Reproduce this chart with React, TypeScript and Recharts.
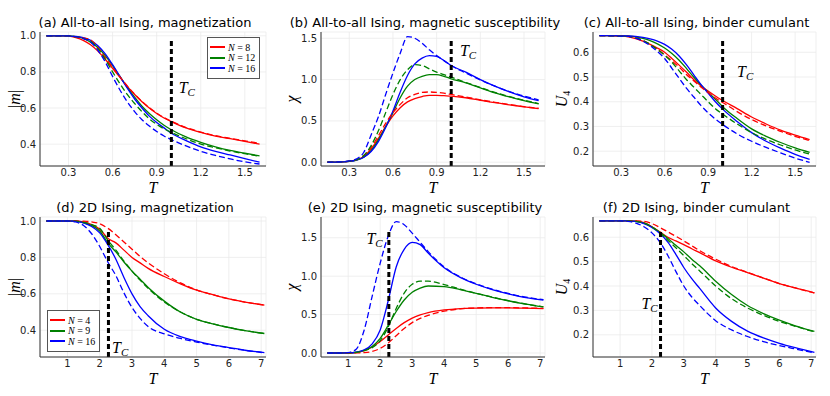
import React from "react";
import {
  LineChart,
  Line,
  XAxis,
  YAxis,
  CartesianGrid,
  ReferenceLine,
  ReferenceDot
} from "recharts";

// temperatures
const tTop = [0.15, 0.2, 0.25, 0.3, 0.35, 0.4, 0.45, 0.5, 0.55, 0.6, 0.65, 0.7, 0.75, 0.8, 0.85, 0.9, 0.95, 1.0, 1.1, 1.2, 1.3, 1.4, 1.5, 1.6];
const tBottom = [0.35, 0.75, 1.0, 1.25, 1.5, 1.75, 2.0, 2.25, 2.5, 2.75, 3.0, 3.25, 3.5, 4.0, 4.5, 5.0, 5.5, 6.0, 6.5, 7.1];

const nAllToAll = [8, 12, 16];
const n2d = [4, 9, 16];
const colors = ["#ff0000", "#008000", "#0000ff"];

// (a) all-to-all |m|
const aRed = [1, 1, 1, 0.998, 0.99, 0.975, 0.95, 0.915, 0.87, 0.82, 0.77, 0.72, 0.675, 0.635, 0.6, 0.57, 0.545, 0.525, 0.49, 0.465, 0.445, 0.43, 0.415, 0.4];
const aRedDash = [1, 1, 1, 0.999, 0.995, 0.988, 0.978, 0.935, 0.88, 0.825, 0.772, 0.722, 0.677, 0.637, 0.602, 0.572, 0.547, 0.527, 0.492, 0.467, 0.447, 0.432, 0.418, 0.405];
const aGreen = [1, 1, 1, 0.999, 0.995, 0.985, 0.965, 0.935, 0.89, 0.835, 0.775, 0.715, 0.66, 0.61, 0.57, 0.535, 0.505, 0.48, 0.44, 0.41, 0.385, 0.365, 0.35, 0.335];
const aGreenDash = [1, 1, 1, 0.999, 0.995, 0.985, 0.97, 0.93, 0.87, 0.8, 0.735, 0.675, 0.625, 0.58, 0.54, 0.51, 0.485, 0.465, 0.43, 0.4, 0.38, 0.362, 0.347, 0.333];
const aBlue = [1, 1, 1, 0.999, 0.997, 0.99, 0.975, 0.945, 0.9, 0.84, 0.775, 0.71, 0.65, 0.6, 0.555, 0.52, 0.49, 0.46, 0.42, 0.385, 0.36, 0.34, 0.32, 0.3];
const aBlueDash = [1, 1, 1, 0.999, 0.995, 0.985, 0.965, 0.92, 0.855, 0.775, 0.7, 0.635, 0.58, 0.535, 0.5, 0.47, 0.445, 0.425, 0.39, 0.36, 0.338, 0.318, 0.302, 0.29];

// (b) all-to-all chi
const bRed = [0, 0.001, 0.004, 0.01, 0.03, 0.07, 0.16, 0.29, 0.43, 0.56, 0.66, 0.73, 0.77, 0.795, 0.81, 0.81, 0.805, 0.8, 0.78, 0.75, 0.72, 0.695, 0.67, 0.65];
const bRedDash = [0, 0.001, 0.005, 0.012, 0.03, 0.08, 0.18, 0.32, 0.47, 0.6, 0.7, 0.78, 0.82, 0.845, 0.85, 0.845, 0.835, 0.82, 0.79, 0.755, 0.725, 0.698, 0.672, 0.652];
const bGreen = [0, 0.001, 0.004, 0.01, 0.025, 0.06, 0.14, 0.27, 0.43, 0.6, 0.78, 0.92, 1.0, 1.04, 1.06, 1.06, 1.04, 1.01, 0.96, 0.9, 0.84, 0.79, 0.745, 0.705];
const bGreenDash = [0, 0.001, 0.005, 0.012, 0.03, 0.08, 0.2, 0.38, 0.6, 0.82, 1.0, 1.12, 1.18, 1.17, 1.13, 1.09, 1.06, 1.03, 0.965, 0.905, 0.845, 0.795, 0.75, 0.71];
const bBlue = [0, 0.001, 0.004, 0.01, 0.025, 0.06, 0.13, 0.25, 0.42, 0.62, 0.85, 1.05, 1.19, 1.26, 1.29, 1.28, 1.23, 1.17, 1.09, 1.0, 0.92, 0.85, 0.79, 0.745];
const bBlueDash = [0, 0.002, 0.005, 0.015, 0.04, 0.12, 0.33, 0.55, 0.82, 1.08, 1.32, 1.52, 1.5, 1.44, 1.36, 1.29, 1.23, 1.17, 1.08, 0.995, 0.92, 0.855, 0.8, 0.755];

// (c) all-to-all binder cumulant
const cRed = [0.667, 0.667, 0.666, 0.665, 0.662, 0.655, 0.645, 0.632, 0.617, 0.6, 0.575, 0.548, 0.52, 0.49, 0.465, 0.443, 0.423, 0.405, 0.372, 0.338, 0.31, 0.285, 0.265, 0.247];
const cRedDash = [0.667, 0.667, 0.666, 0.665, 0.664, 0.658, 0.648, 0.632, 0.612, 0.59, 0.565, 0.54, 0.51, 0.485, 0.46, 0.437, 0.415, 0.397, 0.36, 0.328, 0.302, 0.28, 0.26, 0.243];
const cGreen = [0.667, 0.667, 0.667, 0.666, 0.665, 0.662, 0.656, 0.647, 0.634, 0.617, 0.595, 0.568, 0.535, 0.5, 0.468, 0.438, 0.41, 0.38, 0.332, 0.29, 0.26, 0.235, 0.213, 0.195];
const cGreenDash = [0.667, 0.667, 0.666, 0.665, 0.664, 0.658, 0.648, 0.632, 0.612, 0.588, 0.56, 0.525, 0.49, 0.46, 0.43, 0.4, 0.372, 0.35, 0.31, 0.275, 0.248, 0.225, 0.205, 0.188];
const cBlue = [0.667, 0.667, 0.667, 0.667, 0.666, 0.664, 0.66, 0.654, 0.645, 0.632, 0.612, 0.585, 0.55, 0.51, 0.47, 0.435, 0.4, 0.37, 0.32, 0.275, 0.24, 0.212, 0.187, 0.167];
const cBlueDash = [0.667, 0.667, 0.666, 0.665, 0.664, 0.657, 0.645, 0.627, 0.603, 0.575, 0.535, 0.495, 0.455, 0.42, 0.385, 0.355, 0.33, 0.308, 0.27, 0.24, 0.215, 0.193, 0.172, 0.155];

// (d) 2D |m|
const dRed = [1, 1, 1, 0.999, 0.995, 0.98, 0.955, 0.905, 0.88, 0.84, 0.8, 0.77, 0.74, 0.695, 0.655, 0.62, 0.595, 0.572, 0.555, 0.538];
const dRedDash = [1, 1, 1, 1, 0.999, 0.995, 0.985, 0.96, 0.925, 0.885, 0.845, 0.805, 0.77, 0.71, 0.66, 0.622, 0.595, 0.572, 0.555, 0.538];
const dGreen = [1, 1, 1, 0.999, 0.99, 0.975, 0.945, 0.88, 0.83, 0.775, 0.725, 0.68, 0.635, 0.56, 0.5, 0.46, 0.435, 0.415, 0.398, 0.382];
const dGreenDash = [1, 1, 1, 0.999, 0.993, 0.98, 0.96, 0.895, 0.84, 0.78, 0.725, 0.675, 0.63, 0.555, 0.5, 0.46, 0.435, 0.415, 0.398, 0.382];
const dBlue = [1, 1, 1, 0.999, 0.99, 0.97, 0.935, 0.87, 0.79, 0.69, 0.6, 0.53, 0.48, 0.405, 0.365, 0.34, 0.32, 0.305, 0.29, 0.277];
const dBlueDash = [1, 1, 1, 0.995, 0.975, 0.93, 0.86, 0.775, 0.7, 0.605, 0.525, 0.465, 0.42, 0.38, 0.355, 0.335, 0.318, 0.303, 0.29, 0.276];

// (e) 2D chi
const eRed = [0, 0, 0.0005, 0.005, 0.03, 0.08, 0.15, 0.235, 0.32, 0.395, 0.455, 0.495, 0.525, 0.56, 0.578, 0.585, 0.588, 0.587, 0.583, 0.578];
const eRedDash = [0, 0, 0, 0.001, 0.005, 0.02, 0.06, 0.13, 0.225, 0.32, 0.395, 0.45, 0.49, 0.545, 0.575, 0.586, 0.59, 0.59, 0.587, 0.58];
const eGreen = [0, 0, 0.001, 0.01, 0.035, 0.085, 0.19, 0.36, 0.54, 0.69, 0.79, 0.845, 0.872, 0.865, 0.825, 0.775, 0.725, 0.68, 0.64, 0.6];
const eGreenDash = [0, 0, 0.001, 0.008, 0.03, 0.07, 0.16, 0.34, 0.58, 0.78, 0.895, 0.935, 0.935, 0.89, 0.832, 0.778, 0.727, 0.681, 0.641, 0.6];
const eBlue = [0, 0, 0.001, 0.01, 0.04, 0.12, 0.3, 0.68, 1.12, 1.35, 1.44, 1.41, 1.3, 1.11, 0.985, 0.895, 0.825, 0.77, 0.725, 0.69];
const eBlueDash = [0, 0, 0.005, 0.05, 0.3, 0.74, 1.17, 1.52, 1.71, 1.67, 1.56, 1.44, 1.32, 1.12, 0.99, 0.9, 0.83, 0.775, 0.73, 0.695];

// (f) 2D binder cumulant
const fRed = [0.667, 0.667, 0.667, 0.667, 0.666, 0.66, 0.643, 0.622, 0.6, 0.585, 0.57, 0.553, 0.537, 0.503, 0.477, 0.455, 0.432, 0.41, 0.392, 0.372];
const fRedDash = [0.667, 0.667, 0.667, 0.667, 0.667, 0.665, 0.656, 0.64, 0.622, 0.604, 0.585, 0.565, 0.545, 0.51, 0.48, 0.456, 0.433, 0.41, 0.392, 0.372];
const fGreen = [0.667, 0.667, 0.667, 0.667, 0.665, 0.658, 0.642, 0.62, 0.595, 0.567, 0.54, 0.51, 0.483, 0.42, 0.365, 0.32, 0.287, 0.26, 0.237, 0.214];
const fGreenDash = [0.667, 0.667, 0.667, 0.667, 0.665, 0.658, 0.642, 0.618, 0.588, 0.557, 0.525, 0.492, 0.462, 0.4, 0.348, 0.31, 0.28, 0.255, 0.235, 0.212];
const fBlue = [0.667, 0.667, 0.667, 0.667, 0.665, 0.656, 0.64, 0.615, 0.58, 0.53, 0.476, 0.43, 0.39, 0.31, 0.255, 0.215, 0.187, 0.165, 0.147, 0.128];
const fBlueDash = [0.667, 0.667, 0.667, 0.665, 0.658, 0.643, 0.618, 0.58, 0.525, 0.46, 0.4, 0.355, 0.32, 0.258, 0.22, 0.193, 0.172, 0.156, 0.142, 0.126];

const xTicksTop = [0.3, 0.6, 0.9, 1.2, 1.5];
const xTicksBottom = [1, 2, 3, 4, 5, 6, 7];
const magTicks = [0.4, 0.6, 0.8, 1.0];
const chiTicks = [0, 0.5, 1.0, 1.5];
const binderTicks = [0.2, 0.3, 0.4, 0.5, 0.6];

const tcAllToAll = 1.0;
const tc2d = 2.27;

const panels = [
  { title: "(a) All-to-all Ising, magnetization", t: tTop, solid: [aRed, aGreen, aBlue], dashed: [aRedDash, aGreenDash, aBlueDash], xDomain: [0.106, 1.644], xTicks: xTicksTop, yDomain: [0.279, 1.021], yTicks: magTicks, tc: tcAllToAll, tcTop: 0.979, tcText: [1.05, 0.71], yLabel: "m", gap: 25, box: { left: 40, top: 32, width: 226, height: 134 }, legend: { left: 207, top: 37, ns: nAllToAll } },
  { title: "(b) All-to-all Ising, magnetic susceptibility", t: tTop, solid: [bRed, bGreen, bBlue], dashed: [bRedDash, bGreenDash, bBlueDash], xDomain: [0.106, 1.644], xTicks: xTicksTop, yDomain: [-0.046, 1.576], yTicks: chiTicks, tc: tcAllToAll, tcTop: 1.485, tcText: [1.06, 1.34], yLabel: "chi", gap: 29, box: { left: 321, top: 32, width: 224, height: 134 } },
  { title: "(c) All-to-all Ising, binder cumulant", t: tTop, solid: [cRed, cGreen, cBlue], dashed: [cRedDash, cGreenDash, cBlueDash], xDomain: [0.106, 1.644], xTicks: xTicksTop, yDomain: [0.14, 0.682], yTicks: binderTicks, tc: tcAllToAll, tcTop: 0.652, tcText: [1.1, 0.52], yLabel: "u4", gap: 31, box: { left: 593, top: 32, width: 223, height: 134 } },
  { title: "(d) 2D Ising, magnetization", t: tBottom, solid: [dRed, dGreen, dBlue], dashed: [dRedDash, dGreenDash, dBlueDash], xDomain: [0.15, 7.15], xTicks: xTicksBottom, yDomain: [0.253, 1.022], yTicks: magTicks, tc: tc2d, tcTop: 0.956, tcText: [2.38, 0.303], yLabel: "m", gap: 25, box: { left: 40, top: 217, width: 226, height: 140 }, legend: { left: 47, top: 310, ns: n2d } },
  { title: "(e) 2D Ising, magnetic susceptibility", t: tBottom, solid: [eRed, eGreen, eBlue], dashed: [eRedDash, eGreenDash, eBlueDash], xDomain: [0.15, 7.15], xTicks: xTicksBottom, yDomain: [-0.052, 1.77], yTicks: chiTicks, tc: tc2d, tcTop: 1.613, tcText: [1.57, 1.48], yLabel: "chi", gap: 29, box: { left: 321, top: 217, width: 224, height: 140 } },
  { title: "(f) 2D Ising, binder cumulant", t: tBottom, solid: [fRed, fGreen, fBlue], dashed: [fRedDash, fGreenDash, fBlueDash], xDomain: [0.15, 7.15], xTicks: xTicksBottom, yDomain: [0.109, 0.683], yTicks: binderTicks, tc: tc2d, tcTop: 0.634, tcText: [1.67, 0.325], yLabel: "u4", gap: 31, box: { left: 593, top: 217, width: 223, height: 140 } }
];

const sans = '"DejaVu Sans", sans-serif';
const serif = '"Liberation Serif", "DejaVu Serif", serif';
const tickStyle = { fontSize: 10, fill: "#222", fontFamily: sans };

function TcLabel(props: any) {
  const { x, y } = props.viewBox;
  return (
    <text x={x} y={y + 5} fontFamily={serif} fontStyle="italic" fontSize={16} fill="#000">
      T<tspan fontSize={11} dy={3}>C</tspan>
    </text>
  );
}

function Panel({ p }: { p: any }) {
  const ml = 40, mt = 4, mr = 6, xh = 30;
  const rows = p.t.map((T: number, i: number) => {
    const row: any = { T };
    p.solid.forEach((s: number[], k: number) => (row["s" + k] = s[i]));
    p.dashed.forEach((s: number[], k: number) => (row["d" + k] = s[i]));
    return row;
  });

  const xLabel = (lp: any) => {
    const vb = lp.viewBox;
    return (
      <text x={vb.x + vb.width / 2} y={vb.y + 27} textAnchor="middle" fontFamily={serif} fontStyle="italic" fontSize={16}>
        T
      </text>
    );
  };

  const yLabel = (lp: any) => {
    const vb = lp.viewBox;
    const cx = vb.x + vb.width - p.gap;
    const cy = vb.y + vb.height / 2;
    let content: any;
    if (p.yLabel === "m") {
      content = (
        <>
          |<tspan fontStyle="italic">m</tspan>|
        </>
      );
    } else if (p.yLabel === "chi") {
      content = <tspan fontStyle="italic">χ</tspan>;
    } else {
      content = (
        <>
          <tspan fontStyle="italic">U</tspan>
          <tspan fontSize={10} dy={3}>4</tspan>
        </>
      );
    }
    return (
      <text x={cx} y={cy + 5} textAnchor="middle" fontFamily={serif} fontSize={16} transform={`rotate(-90, ${cx}, ${cy})`}>
        {content}
      </text>
    );
  };

  return (
    <>
      <div style={{ position: "absolute", left: p.box.left - ml, top: p.box.top - mt }}>
        <LineChart width={ml + p.box.width + mr} height={mt + p.box.height + xh} data={rows} margin={{ top: mt, right: mr, bottom: 0, left: 0 }}>
          <CartesianGrid stroke="#ebebeb" strokeWidth={0.8} />
          <XAxis
            dataKey="T"
            type="number"
            domain={p.xDomain}
            ticks={p.xTicks}
            allowDataOverflow
            height={xh}
            stroke="#333"
            tickLine={false}
            tickSize={2}
            tickMargin={1}
            tick={tickStyle}
            label={xLabel}
          />
          <YAxis
            type="number"
            domain={p.yDomain}
            ticks={p.yTicks}
            allowDataOverflow
            width={ml}
            stroke="#333"
            tickLine={false}
            tickSize={2}
            tickMargin={2}
            tick={tickStyle}
            tickFormatter={(v: number) => v.toFixed(1)}
            label={yLabel}
          />
          {p.solid.map((_: any, k: number) => (
            <Line key={"s" + k} dataKey={"s" + k} type="monotone" stroke={colors[k]} strokeWidth={1.3} dot={false} isAnimationActive={false} />
          ))}
          {p.dashed.map((_: any, k: number) => (
            <Line key={"d" + k} dataKey={"d" + k} type="monotone" stroke={colors[k]} strokeWidth={1.3} strokeDasharray="6 3" dot={false} isAnimationActive={false} />
          ))}
          <ReferenceLine
            segment={[{ x: p.tc, y: p.yDomain[0] }, { x: p.tc, y: p.tcTop }]}
            stroke="#000"
            strokeWidth={3}
            strokeDasharray="5 3"
          />
          <ReferenceDot x={p.tcText[0]} y={p.tcText[1]} r={0} fill="none" stroke="none" label={TcLabel} />
        </LineChart>
      </div>
      <div
        style={{
          position: "absolute",
          left: p.box.left + p.box.width / 2 - 8 - 170,
          width: 340,
          top: p.box.top - 17,
          textAlign: "center",
          fontFamily: sans,
          fontSize: 13,
          lineHeight: "16px",
          whiteSpace: "nowrap",
          color: "#000"
        }}
      >
        {p.title}
      </div>
      {p.legend && (
        <div
          style={{
            position: "absolute",
            left: p.legend.left,
            top: p.legend.top,
            width: 51,
            padding: "4px 0",
            border: "1px solid #555",
            background: "#fff",
            fontFamily: serif,
            fontSize: 10,
            color: "#000"
          }}
        >
          {p.legend.ns.map((n: number, k: number) => (
            <div key={n} style={{ display: "flex", alignItems: "center", height: 10.5, whiteSpace: "nowrap" }}>
              <span style={{ display: "inline-block", width: 15, height: 2, background: colors[k], margin: "0 3px 0 2px" }} />
              <i>N</i>&nbsp;=&nbsp;{n}
            </div>
          ))}
        </div>
      )}
    </>
  );
}

export default function App() {
  return (
    <div style={{ position: "absolute", left: 0, top: 0, width: 830, height: 396, background: "#fff", overflow: "hidden" }}>
      {panels.map((p) => (
        <Panel key={p.title} p={p} />
      ))}
    </div>
  );
}
